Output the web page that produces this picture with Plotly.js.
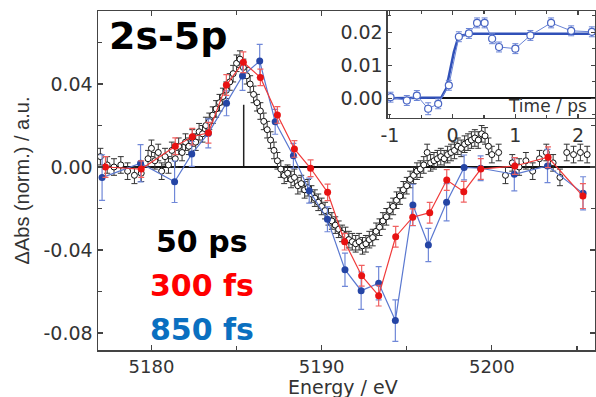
<!DOCTYPE html>
<html><head><meta charset="utf-8">
<script src="https://cdn.plot.ly/plotly-3.0.1.min.js"></script>
<style>html,body{margin:0;padding:0;background:#fff}#chart{width:596px;height:397px}</style>
</head><body><div id="chart"></div>
<script>
// ---- 50 ps (black open circles) ----
const energyBlack = [5177.0,5177.4,5177.8,5178.2,5178.6,5179.0,5179.4,
 5179.8,5180.0,5180.2,5180.4,5180.6,5180.8,5181.0,5181.2,5181.4,5181.6,5181.8,
 5182.0,5182.2,5182.4,5182.6,5182.8,5183.0,5183.2,5183.4,5183.6,5183.8,
 5184.0,5184.2,5184.4,5184.6,5184.8,5185.0,5185.2,5185.4,5185.6,5185.8,
 5186.0,5186.2,5186.4,5186.6,5186.8,5187.0,5187.2,5187.4,5187.6,5187.8,
 5188.0,5188.2,5188.4,5188.6,5188.8,5189.0,5189.2,5189.4,5189.6,5189.8,
 5190.0,5190.2,5190.4,5190.6,5190.8,5191.0,5191.2,5191.4,5191.6,5191.8,
 5192.0,5192.2,5192.4,5192.6,5192.8,5193.0,5193.2,5193.4,5193.6,5193.8,
 5194.0,5194.2,5194.4,5194.6,5194.8,5195.0,5195.2,5195.4,5195.6,5195.8,
 5196.0,5196.2,5196.4,5196.6,5196.8,5197.0,5197.2,5197.4,5197.6,5197.8,
 5198.0,5198.2,5198.4,5198.6,5198.8,5199.0,5199.2,5199.4,5199.6,5199.8,5200.0,
 5200.4,5200.8,5201.2,5201.6,5202.0,5202.4,5202.8,5203.2,5203.6,5204.0,5204.4,5204.8,5205.2,5205.6];
const absBlack = [0.005,0.001,0.000,0.001,-0.002,-0.004,-0.003,
 0.004,0.009,0.003,0.007,-0.002,0.005,0.001,0.008,0.004,0.010,0.007,
 0.012,0.010,0.014,0.012,0.017,0.016,0.020,0.022,0.025,0.028,
 0.031,0.034,0.037,0.041,0.045,0.050,0.052,0.048,0.044,0.040,
 0.035,0.031,0.027,0.022,0.018,0.013,0.008,0.003,-0.001,-0.004,
 -0.003,-0.006,-0.005,-0.009,-0.008,-0.011,-0.010,-0.013,-0.015,-0.017,
 -0.019,-0.021,-0.024,-0.026,-0.028,-0.030,-0.032,-0.033,-0.035,-0.036,
 -0.037,-0.036,-0.038,-0.037,-0.035,-0.034,-0.031,-0.029,-0.026,-0.024,
 -0.021,-0.019,-0.016,-0.014,-0.011,-0.009,-0.006,-0.004,-0.002,-0.001,
 0.001,0.007,0.002,0.003,0.004,0.005,0.004,0.006,0.007,0.008,
 0.010,0.009,0.011,0.012,0.013,0.014,0.013,0.016,0.015,0.010,0.006,
 0.007,-0.004,0.002,0.000,0.003,-0.002,0.004,0.007,0.002,-0.005,0.007,0.006,0.007,0.006];
const errBlack = 0.004;

// ---- 300 fs (red) ----
const energyRed = [5177.3,5179.4,5181.4,5182.4,5183.35,5184.4,5185.4,5186.4,5187.4,5188.4,5189.35,5190.35,
 5191.35,5192.35,5193.35,5194.35,5195.35,5196.35,5197.35,5198.35,5199.35,5201.35,5203.3,5205.35];
const absRed = [0.000,-0.001,0.010,0.0146,0.0165,0.0395,0.0505,0.0432,0.0251,0.0087,-0.0006,-0.0122,
 -0.036,-0.0524,-0.062,-0.0336,-0.0242,-0.022,-0.0063,-0.0119,-0.001,0.0005,0.0047,-0.014];
const errRed = [0.005,0.004,0.004,0.004,0.005,0.005,0.005,0.004,0.004,0.004,0.004,0.004,
 0.004,0.005,0.005,0.005,0.004,0.005,0.005,0.005,0.005,0.004,0.005,0.006];

// ---- 850 fs (blue) ----
const energyBlue = [5177.1,5179.36,5181.36,5182.37,5183.34,5184.41,5185.35,5186.36,5187.27,5188.34,5189.27,5190.34,
 5191.37,5192.32,5193.35,5194.33,5195.36,5196.27,5197.34,5198.37,5199.34,5201.32,5203.27,5205.36];
const absBlue = [-0.0051,0.0018,-0.0071,0.0063,0.0162,0.0307,0.0439,0.0511,0.0218,0.0054,-0.0114,-0.0252,
 -0.0495,-0.0596,-0.056,-0.074,-0.0183,-0.0376,-0.017,-0.0002,-0.0006,-0.0035,0.0005,-0.0127];
const errBlue = [0.011,0.009,0.01,0.006,0.007,0.006,0.007,0.008,0.006,0.006,0.006,0.006,
 0.008,0.009,0.008,0.01,0.01,0.008,0.009,0.006,0.006,0.008,0.008,0.008];

// ---- inset: kinetics ----
const timeInset = [-0.99,-0.73,-0.57,-0.39,-0.23,-0.06,0.10,0.26,0.39,0.51,0.63,0.74,1.00,1.24,1.57,1.89,2.22];
const absInset = [0.0003,-0.0007,0.0008,-0.0032,-0.0017,0.0039,0.0186,0.0196,0.0228,0.0228,0.018,0.0155,0.015,0.019,0.0228,0.0204,0.0201];
const errInset = [0.0015,0.0015,0.0015,0.0018,0.0015,0.0015,0.0015,0.0015,0.0015,0.0015,0.0015,0.0015,0.0015,0.0015,0.0015,0.0015,0.0015];
const timeFit = [-1.05,-0.25,-0.18,-0.1,-0.04,0.02,0.08,0.15,0.3,2.3];
const absFit = [0,0,0.0002,0.003,0.0085,0.014,0.0178,0.019,0.0195,0.0195];

// ---- ticks and labels ----
const xTickVals = [5180,5190,5200];
const xTickText = ['5180','5190','5200'];
const yTickVals = [-0.08,-0.04,0,0.04];
const yTickText = ['-0.08','-0.04','0.00','0.04'];
const x2TickVals = [-1,0,1,2];
const x2TickText = ['-1','0','1','2'];
const y2TickVals = [0,0.01,0.02];
const y2TickText = ['0.00','0.01','0.02'];
const edgeMarker = [5185.42, 0.030];
const seriesLabels = ['50 ps','300 fs','850 fs'];
const panelLabel = '2s-5p';
const xTitle = 'Energy / eV';
const yTitle = 'ΔAbs (norm.) / a.u.';
const insetTitle = 'Time / ps';

const axCol = '#444';
const tickFont = {family:'DejaVu Sans', size:19, color:'#333'};

const traces = [
 {x:energyBlack, y:absBlack, type:'scatter', mode:'markers',
  marker:{symbol:'circle', size:6, color:'#fff', line:{color:'#111', width:1}},
  error_y:{type:'constant', value:errBlack, color:'#333', thickness:1, width:3}},
 {x:energyBlue, y:absBlue, type:'scatter', mode:'lines+markers',
  line:{color:'#5a78d0', width:1.2}, marker:{size:7, color:'#2545a5'},
  error_y:{type:'data', array:errBlue, color:'#7088d8', thickness:1.2, width:3}},
 {x:energyRed, y:absRed, type:'scatter', mode:'lines+markers',
  line:{color:'#f03a3a', width:1.2}, marker:{size:7, color:'#e81212'},
  error_y:{type:'data', array:errRed, color:'#f06060', thickness:1.2, width:3}},
 {x:timeFit, y:absFit, xaxis:'x2', yaxis:'y2', type:'scatter', mode:'lines',
  line:{color:'#3050b8', width:2.5}},
 {x:timeInset, y:absInset, xaxis:'x2', yaxis:'y2', type:'scatter', mode:'lines+markers',
  line:{color:'#6a84d6', width:1}, marker:{symbol:'circle', size:7, color:'#fff', line:{color:'#4a66c4', width:1.2}},
  error_y:{type:'data', array:errInset, color:'#6a84d6', thickness:1, width:3}}
];

const layout = {
 width:596, height:397,
 margin:{l:98, r:1, t:11, b:47},
 paper_bgcolor:'#fff', plot_bgcolor:'#fff',
 showlegend:false,
 xaxis:{domain:[0,1], range:[5176.86,5206.06], tickmode:'array', tickvals:xTickVals, ticktext:xTickText,
  ticks:'inside', ticklen:5, tickwidth:1.2, tickcolor:axCol, showline:true, linecolor:axCol, linewidth:1.5, mirror:'ticks',
  showgrid:false, zeroline:false, tickfont:{family:'DejaVu Sans', size:18, color:'#333'}, ticklabelstandoff:0,
  minor:{tickmode:'linear', tick0:5175, dtick:5, ticks:'inside', ticklen:4, tickcolor:axCol, showgrid:false}},
 yaxis:{domain:[0,1], range:[-0.0882,0.0752], tickmode:'array', tickvals:yTickVals, ticktext:yTickText,
  ticks:'inside', ticklen:5, tickwidth:1.2, tickcolor:axCol, showline:true, linecolor:axCol, linewidth:1.5, mirror:'ticks',
  showgrid:false, zeroline:true, zerolinecolor:'#111', zerolinewidth:1.5, tickfont:tickFont,
  minor:{tickmode:'linear', tick0:0, dtick:0.02, ticks:'inside', ticklen:4, tickcolor:axCol, showgrid:false},
  title:{text:yTitle, font:{family:'Liberation Sans', size:20, color:'#333'}, standoff:8}},
 xaxis2:{domain:[0.5835,1], anchor:'y2', range:[-1.03,2.27], tickmode:'array', tickvals:x2TickVals, ticktext:x2TickText,
  ticks:'inside', ticklen:4, tickwidth:1.2, tickcolor:axCol, showline:true, linecolor:axCol, linewidth:1.5, mirror:'ticks',
  showgrid:false, zeroline:false, tickfont:tickFont,
  minor:{tickmode:'linear', tick0:-1, dtick:0.5, ticks:'inside', ticklen:3, tickcolor:axCol, showgrid:false}},
 yaxis2:{domain:[0.6844,1], anchor:'x2', range:[-0.006,0.0264], tickmode:'array', tickvals:y2TickVals, ticktext:y2TickText,
  ticks:'inside', ticklen:4, tickwidth:1.2, tickcolor:axCol, showline:true, linecolor:axCol, linewidth:1.5, mirror:'ticks',
  showgrid:false, zeroline:true, zerolinecolor:'#111', zerolinewidth:1.5, tickfont:tickFont,
  minor:{tickmode:'linear', tick0:0, dtick:0.005, ticks:'inside', ticklen:3, tickcolor:axCol, showgrid:false}},
 shapes:[{type:'line', xref:'x', yref:'y', x0:edgeMarker[0], x1:edgeMarker[0], y0:0, y1:edgeMarker[1],
  line:{color:'#222', width:1.5}, layer:'below'}],
 annotations:[
  {text:'<b>'+panelLabel+'</b>', xref:'paper', yref:'paper', x:0.018, y:0.926, xanchor:'left', yanchor:'middle',
   showarrow:false, font:{family:'DejaVu Sans', size:38, color:'#000'}},
  {text:'<b>'+seriesLabels[0]+'</b>', xref:'paper', yref:'paper', x:0.2093, y:0.3186, xanchor:'center', yanchor:'middle',
   showarrow:false, font:{family:'DejaVu Sans', size:30, color:'#000'}},
  {text:'<b>'+seriesLabels[1]+'</b>', xref:'paper', yref:'paper', x:0.2093, y:0.1888, xanchor:'center', yanchor:'middle',
   showarrow:false, font:{family:'DejaVu Sans', size:30, color:'#ff0000'}},
  {text:'<b>'+seriesLabels[2]+'</b>', xref:'paper', yref:'paper', x:0.2093, y:0.0619, xanchor:'center', yanchor:'middle',
   showarrow:false, font:{family:'DejaVu Sans', size:30, color:'#0a6fc0'}},
  {text:insetTitle, xref:'paper', yref:'paper', x:0.988, y:0.7198, xanchor:'right', yanchor:'middle',
   showarrow:false, font:{family:'DejaVu Sans', size:17, color:'#333'}},
  {text:xTitle, xref:'paper', yref:'paper', x:0.492, y:-0.108, xanchor:'center', yanchor:'middle',
   showarrow:false, font:{family:'DejaVu Sans', size:19, color:'#333'}}
 ]
};

Plotly.newPlot('chart', traces, layout, {staticPlot:true, displayModeBar:false});
</script></body></html>
